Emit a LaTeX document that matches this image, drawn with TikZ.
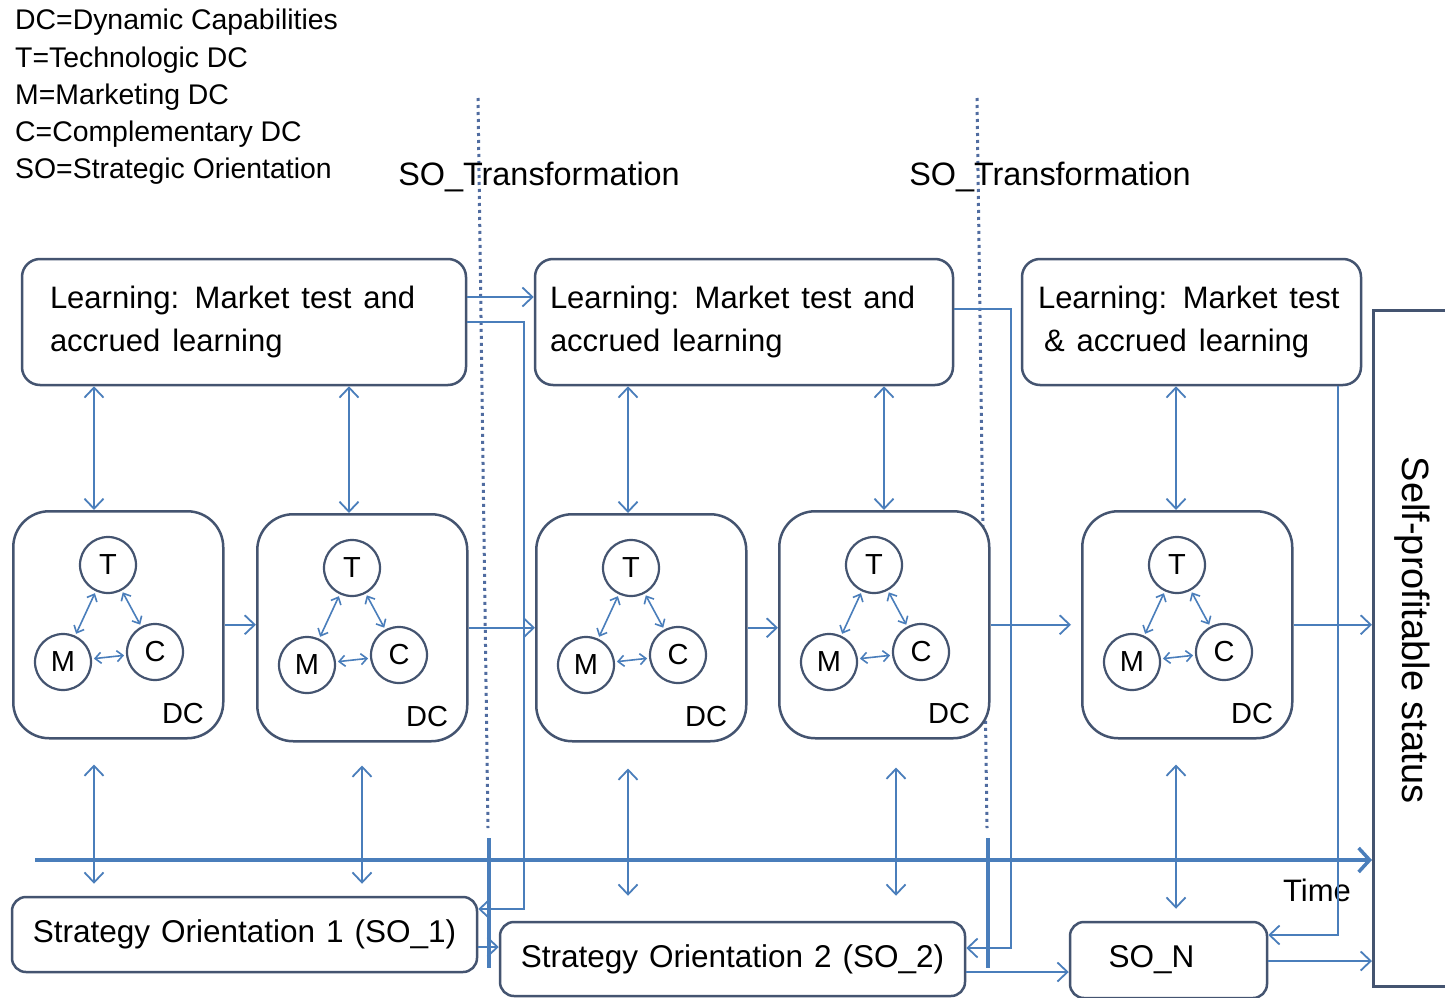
\documentclass[tikz,border=0pt]{standalone}
\usepackage{fontspec}
\setmainfont{Liberation Sans}
\usetikzlibrary{arrows.meta,calc}
\definecolor{boxc}{RGB}{68,84,112}
\definecolor{arrc}{RGB}{74,126,187}
\definecolor{dotc}{RGB}{80,108,160}
\newcommand\widesp[1]{\spaceskip=#1\relax}
\tikzset{
  lbox/.style={draw=boxc, line width=2.5pt, rounded corners=18pt, fill=white, inner sep=0pt, align=left, font=\fontsize{31}{43}\selectfont},
  sobox/.style={draw=boxc, line width=2.5pt, rounded corners=14pt, fill=white, inner sep=0pt, font=\fontsize{31.5}{36}\selectfont},
  dcbox/.style={draw=boxc, line width=2.5pt, rounded corners=36pt, fill=white, minimum width=210pt, minimum height=227pt, anchor=north west, inner sep=0pt},
  circ/.style={circle, draw=boxc, line width=2.2pt, minimum size=56pt, inner sep=0pt, font=\fontsize{29}{30}\selectfont},
  dclab/.style={font=\fontsize{29}{30}\selectfont, inner sep=0pt},
  arr/.style={draw=arrc, line width=1.8pt, -{Straight Barb[length=10pt,width=19pt]}},
  darr/.style={draw=arrc, line width=1.8pt, {Straight Barb[length=10pt,width=19pt]}-{Straight Barb[length=10pt,width=19pt]}},
  sarr/.style={draw=arrc, line width=1.6pt, shorten <=2pt, shorten >=2pt, {Straight Barb[length=6pt,width=11pt]}-{Straight Barb[length=6pt,width=11pt]}},
  timearr/.style={draw=arrc, line width=3.5pt, -{Straight Barb[length=11pt,width=24pt]}},
  dotl/.style={draw=dotc, line width=3pt, dash pattern=on 3pt off 4pt},
  thickl/.style={draw=arrc, line width=3.5pt},
  plain/.style={inner sep=0pt, font=\fontsize{31}{36}\selectfont},
}
\newcommand\dcunit[3]{%
  \begin{scope}[shift={(#2,#3)}]
    \node[dcbox] (#1) at (0,0) {};
    \node[circ] (#1T) at (96,55) {T};
    \node[circ] (#1M) at (51,152) {M};
    \node[circ] (#1C) at (143,142) {C};
    \node[dclab] (#1L) at (171,204) {DC};
    \draw[sarr] (#1T) -- (#1M);
    \draw[sarr] (#1T) -- (#1C);
    \draw[sarr] (#1M) -- (#1C);
  \end{scope}}
\begin{document}
\begin{tikzpicture}[x=1pt,y=-1pt]
\useasboundingbox[fill=white] (0,0) rectangle (1445,998);
% legend
\node[anchor=north west, align=left, inner sep=0pt, font=\fontsize{28.4}{37.3}\selectfont] (legend) at (15,9)
  {DC=Dynamic Capabilities\\T=Technologic DC\\M=Marketing DC\\C=Complementary DC\\SO=Strategic Orientation};
% dotted transformation lines
\coordinate (dA1) at (478,98); \coordinate (dA2) at (488,828);
\coordinate (dB1) at (977,98); \coordinate (dB2) at (987,828);
\draw[dotl] (dA1) -- (dA2);
\draw[dotl] (dB1) -- (dB2);
\node[plain, font=\fontsize{32.4}{36}\selectfont] (tr1) at (539,177) {SO\_Transformation};
\node[plain, font=\fontsize{32.4}{36}\selectfont] (tr2) at (1050,177) {SO\_Transformation};
% learning boxes
\node[lbox, minimum width=444pt, minimum height=126pt, text width=388pt] (L1) at (244,322) {\widesp{12pt}Learning: Market test and\\accrued learning};
\node[lbox, minimum width=418pt, minimum height=126pt, text width=388pt] (L2) at (744,322) {\widesp{12pt}Learning: Market test and\\accrued learning};
\node[lbox, minimum width=339pt, minimum height=126pt, text width=307pt] (L3) at (1191.5,322) {\widesp{12pt}Learning: Market test\\\hspace{6pt}\& accrued learning};
% DC units
\dcunit{D1}{12}{510}
\dcunit{D2}{256}{513}
\dcunit{D3}{535}{513}
\dcunit{D4}{778}{510}
\dcunit{D5}{1081}{510}
% SO boxes
\node[sobox, minimum width=465pt, minimum height=75pt] (SO1) at (244.5,934.5) {\widesp{11pt}Strategy Orientation 1 (SO\_1)};
\node[sobox, minimum width=465pt, minimum height=74pt] (SO2) at (732.5,959) {\widesp{11pt}Strategy Orientation 2 (SO\_2)};
\node[sobox, minimum width=197pt, minimum height=76pt] (SON) at (1168.5,960) {SO\_N\kern34pt};
% self-profitable box
\node[draw=boxc, line width=2.5pt, fill=white, minimum width=100pt, minimum height=676pt, anchor=north west, inner sep=0pt] (SP) at (1372,309) {};
\node[plain, rotate=-90, font=\fontsize{38}{40}\selectfont] (SPt) at (1412,630) {Self-profitable status};
% thick transformation marks
\coordinate (tA1) at (489,838); \coordinate (tA2) at (489,968);
\coordinate (tB1) at (988,838); \coordinate (tB2) at (988,968);
\draw[thickl] (tA1) -- (tA2);
\draw[thickl] (tB1) -- (tB2);
% time axis
\coordinate (t0) at (35,860);
\draw[timearr] (t0) -- (t0 -| SP.west);
\node[plain] (time) at (1317,890) {Time};
% learning <-> DC
\draw[darr] (L1.south -| 94,0) -- (D1.north -| 94,0);
\draw[darr] (L1.south -| 349,0) -- (D2.north -| 349,0);
\draw[darr] (L2.south -| 628,0) -- (D3.north -| 628,0);
\draw[darr] (L2.south -| 884,0) -- (D4.north -| 884,0);
\draw[darr] (L3.south -| 1176,0) -- (D5.north -| 1176,0);
% DC <-> SO
\draw[darr] ($(D1.south -| 94,0)+(0,25)$) -- ($(SO1.north -| 94,0)+(0,-12)$);
\draw[darr] ($(D2.south -| 362,0)+(0,23)$) -- ($(SO1.north -| 362,0)+(0,-12)$);
\draw[darr] ($(D3.south -| 628,0)+(0,26)$) -- ($(SO2.north -| 628,0)+(0,-25)$);
\draw[darr] ($(D4.south -| 896,0)+(0,28)$) -- ($(SO2.north -| 896,0)+(0,-25)$);
\draw[darr] ($(D5.south -| 1176,0)+(0,25)$) -- ($(SON.north -| 1176,0)+(0,-12)$);
% DC chain
\draw[arr] (D1.east) -- (D1.east -| D2.west);
\draw[arr] (D2.east) -- (D2.east -| D3.west);
\draw[arr] (D3.east) -- (D3.east -| D4.west);
\draw[arr] (D4.east) -- ($(D4.east -| D5.west)+(-10,0)$);
\draw[arr] (D5.east) -- (D5.east -| SP.west);
% learning chain
\draw[arr] ($(L1.east)+(0,-25)$) -- ($(L2.west)+(0,-25)$);
\draw[arr] (L1.east) -- ++(57,0) |- ($(SO1.east)+(0,-25.5)$);
\draw[arr] ($(L2.east)+(0,-13)$) -- ++(57,0) |- ($(SO2.east)+(0,-11)$);
\draw[arr] ($(L3.south east)+(-24,0)$) |- ($(SON.east)+(0,-25)$);
% SO chain
\draw[arr] ($(SO1.east)+(0,12.5)$) -- ($(SO1.east -| SO2.west)+(0,12.5)$);
\draw[arr] ($(SO2.east)+(0,13)$) -- ($(SO2.east -| SON.west)+(0,13)$);
\draw[arr] ($(SON.east)+(0,1)$) -- ($(SON.east -| SP.west)+(0,1)$);
\end{tikzpicture}
\end{document}
